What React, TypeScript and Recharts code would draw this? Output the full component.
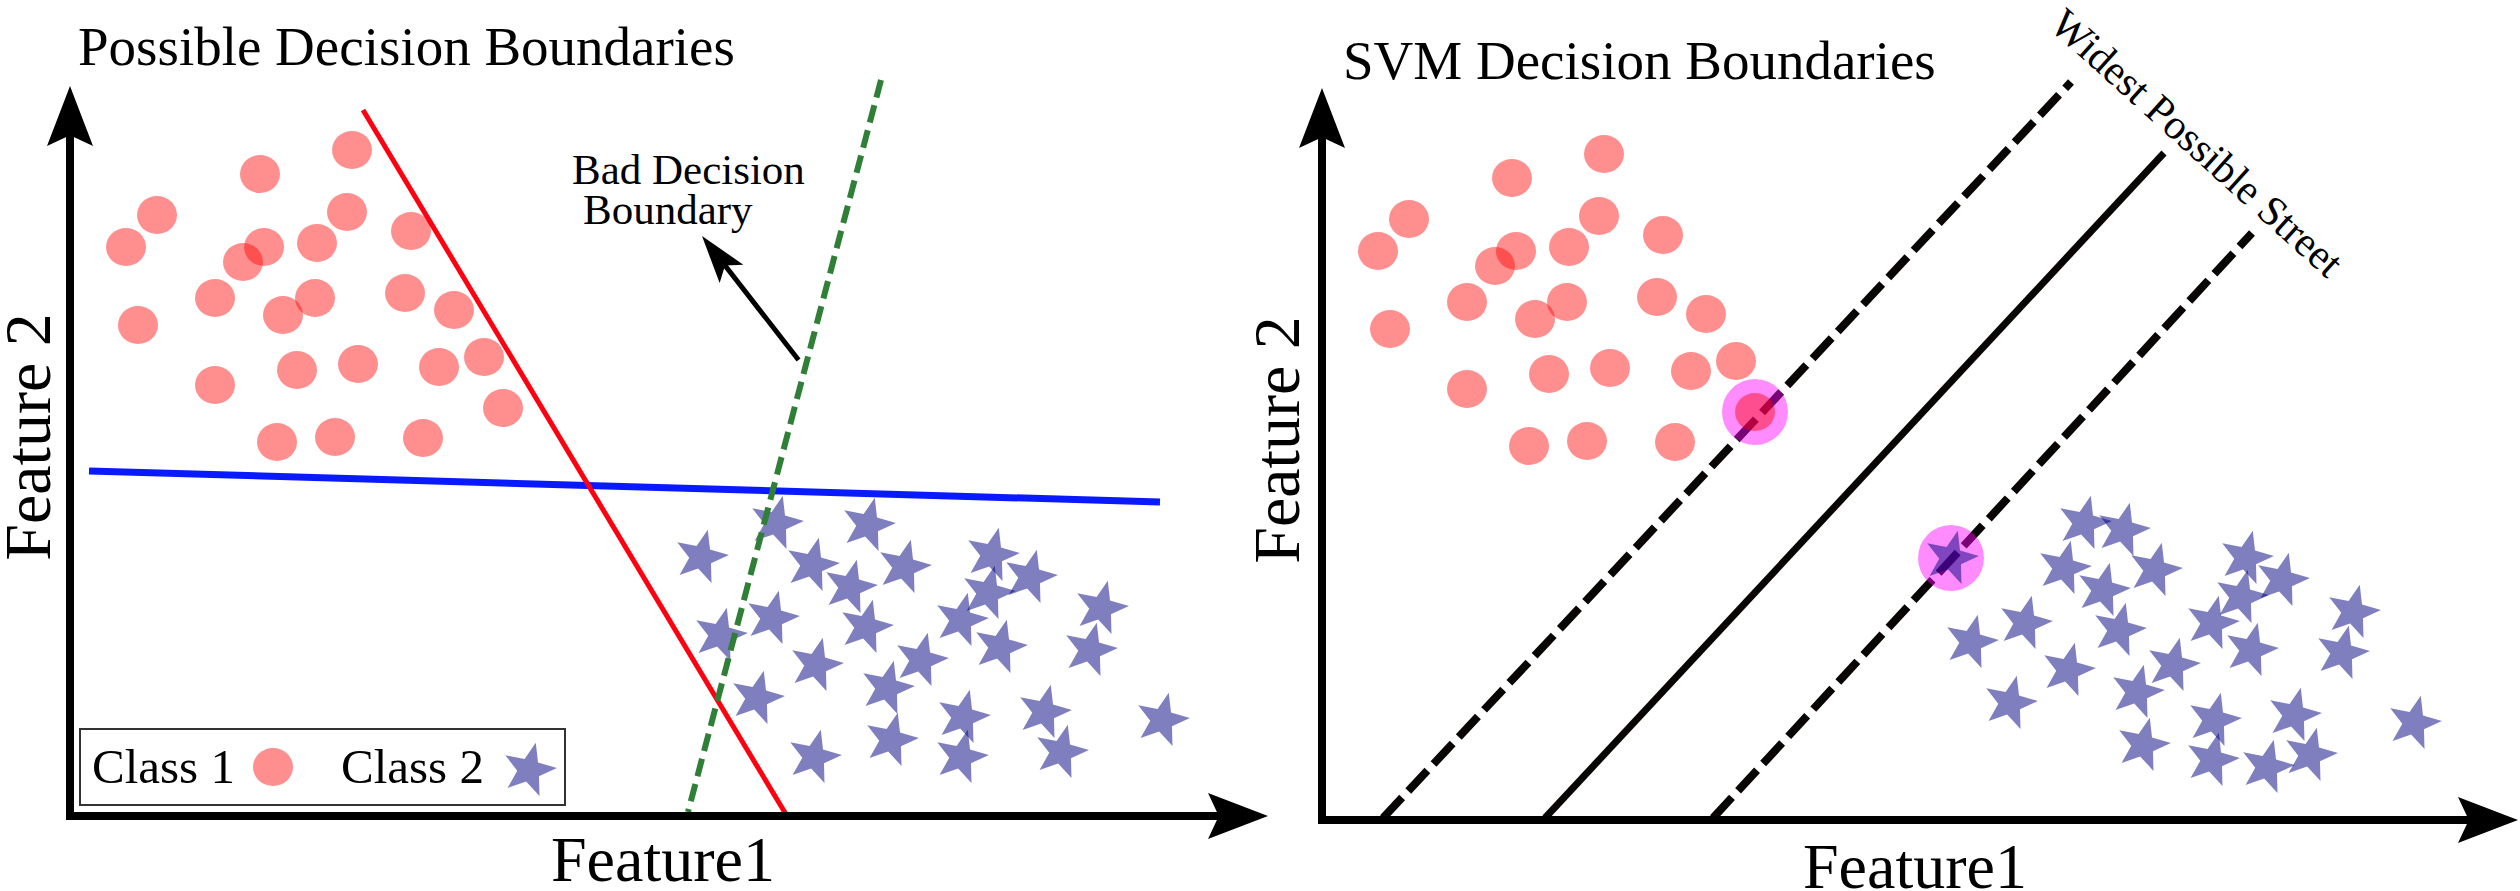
import React from "react";
import { ScatterChart, Scatter, XAxis, YAxis, ReferenceLine } from "recharts";

// feature space: 1 unit = 10px in both panels, origin at the axis corner

// class 1 samples (same cloud in both panels)
const class1 = [
  { x: 28.2, y: 66.6 }, { x: 19.0, y: 64.2 }, { x: 8.7, y: 60.1 }, { x: 5.6, y: 56.9 },
  { x: 19.4, y: 56.9 }, { x: 17.3, y: 55.4 }, { x: 24.7, y: 57.3 }, { x: 27.7, y: 60.4 },
  { x: 34.1, y: 58.5 }, { x: 14.5, y: 51.8 }, { x: 21.3, y: 50.1 }, { x: 24.5, y: 51.8 },
  { x: 33.5, y: 52.3 }, { x: 38.4, y: 50.6 }, { x: 6.8, y: 49.1 }, { x: 14.5, y: 43.1 },
  { x: 22.7, y: 44.6 }, { x: 28.8, y: 45.2 }, { x: 36.9, y: 44.9 }, { x: 41.4, y: 45.9 },
  { x: 43.3, y: 40.8 }, { x: 20.7, y: 37.4 }, { x: 26.5, y: 37.9 }, { x: 35.3, y: 37.8 },
];

// class 2 samples, left panel
const leftClass2 = [
  { x: 63.1, y: 25.9 }, { x: 70.6, y: 29.3 }, { x: 79.8, y: 29.1 }, { x: 74.2, y: 25.1 },
  { x: 83.4, y: 24.9 }, { x: 78.0, y: 22.9 }, { x: 92.2, y: 26.1 }, { x: 96.0, y: 23.9 },
  { x: 91.8, y: 22.3 }, { x: 103.1, y: 20.8 }, { x: 65.0, y: 18.1 }, { x: 70.2, y: 19.8 },
  { x: 79.6, y: 18.9 }, { x: 89.1, y: 19.6 }, { x: 93.0, y: 16.9 }, { x: 102.0, y: 16.6 },
  { x: 74.6, y: 15.1 }, { x: 85.1, y: 15.6 }, { x: 81.7, y: 12.8 }, { x: 68.7, y: 11.8 },
  { x: 89.3, y: 9.9 }, { x: 97.4, y: 10.4 }, { x: 109.2, y: 9.6 }, { x: 74.4, y: 5.9 },
  { x: 82.1, y: 7.6 }, { x: 89.1, y: 5.9 }, { x: 99.1, y: 6.4 },
];

// class 2 samples, right panel
const rightClass2 = [
  { x: 62.9, y: 26.2 }, { x: 76.2, y: 29.7 }, { x: 80.1, y: 29.0 }, { x: 74.2, y: 25.2 },
  { x: 83.3, y: 25.0 }, { x: 78.1, y: 23.0 }, { x: 92.4, y: 26.2 }, { x: 96.0, y: 24.0 },
  { x: 91.9, y: 22.3 }, { x: 103.1, y: 20.8 }, { x: 64.9, y: 17.8 }, { x: 70.3, y: 19.7 },
  { x: 79.7, y: 19.0 }, { x: 89.0, y: 19.7 }, { x: 92.9, y: 17.0 }, { x: 102.0, y: 16.7 },
  { x: 74.6, y: 15.0 }, { x: 85.1, y: 15.5 }, { x: 81.5, y: 12.8 }, { x: 68.8, y: 11.7 },
  { x: 89.2, y: 10.0 }, { x: 97.2, y: 10.5 }, { x: 109.2, y: 9.7 }, { x: 82.1, y: 7.5 },
  { x: 89.0, y: 6.0 }, { x: 94.5, y: 5.3 }, { x: 98.8, y: 6.5 },
];

const supportVectors = [{ x: 43.3, y: 40.8 }, { x: 62.9, y: 26.2 }];

// boundaries, left panel
const redBoundary = [{ x: 29.3, y: 70.6 }, { x: 71.7, y: 0 }];
const greenBoundary = [{ x: 81.1, y: 73.6 }, { x: 61.8, y: 0.4 }];
const blueBoundary = [{ x: 1.9, y: 34.5 }, { x: 109.0, y: 31.4 }];
const badPointer = [{ x: 72.7, y: 45.8 }, { x: 63.2, y: 58.0 }];

// street, right panel
const marginUpper = [{ x: 6.1, y: 0.2 }, { x: 74.9, y: 73.8 }];
const svmBoundary = [{ x: 22.3, y: 0.2 }, { x: 84.2, y: 66.7 }];
const marginLower = [{ x: 39.1, y: 0.2 }, { x: 93.0, y: 58.7 }];

const leftXAxis = [{ x: 0, y: 0 }, { x: 119.8, y: 0 }];
const leftYAxis = [{ x: 0, y: 0 }, { x: 0, y: 73 }];
const rightXAxis = [{ x: 0, y: 0 }, { x: 119.6, y: 0 }];
const rightYAxis = [{ x: 0, y: 0 }, { x: 0, y: 73.2 }];

const serif = '"Liberation Serif", "DejaVu Serif", serif';
const txt = { fontFamily: serif };

function starPoints(cx: number, cy: number, r = 28, inner = 0.42, rot = 14) {
  const pts: string[] = [];
  for (let i = 0; i < 10; i++) {
    const rr = i % 2 === 0 ? r : r * inner;
    const a = ((rot + i * 36) * Math.PI) / 180;
    pts.push(`${cx + rr * Math.sin(a)},${cy - rr * Math.cos(a)}`);
  }
  return pts.join(" ");
}

const CircleMark = (p: any) => (
  <ellipse cx={p.cx} cy={p.cy} rx={20} ry={19} fill="#ff0000" fillOpacity={0.44} />
);
const StarMark = (p: any) => (
  <polygon points={starPoints(p.cx, p.cy)} fill="#000080" fillOpacity={0.5} />
);
const HaloMark = (p: any) => (
  <circle cx={p.cx} cy={p.cy} r={33} fill="#ff00ff" fillOpacity={0.45} />
);

function arrow(width: number, headLen: number, headHalf: number, notch: number) {
  return (p: any) => {
    const { x1, y1, x2, y2 } = p;
    const len = Math.hypot(x2 - x1, y2 - y1);
    const ux = (x2 - x1) / len;
    const uy = (y2 - y1) / len;
    const bx = x2 - ux * headLen;
    const by = y2 - uy * headLen;
    const mx = x2 - ux * headLen * notch;
    const my = y2 - uy * headLen * notch;
    return (
      <g>
        <line x1={x1} y1={y1} x2={mx} y2={my} stroke="#000" strokeWidth={width} strokeLinecap="square" />
        <polygon
          points={`${x2},${y2} ${bx - uy * headHalf},${by + ux * headHalf} ${mx},${my} ${bx + uy * headHalf},${by - ux * headHalf}`}
          fill="#000"
        />
      </g>
    );
  };
}

const axisArrow = arrow(8, 60, 23, 0.82);
const pointerArrow = arrow(5, 48, 15, 0.78);

const seg = (d: { x: number; y: number }[]) =>
  [d[0], d[1]] as [{ x: number; y: number }, { x: number; y: number }];

export default function App() {
  return (
    <div style={{ position: "absolute", left: 0, top: 0, width: 2520, height: 891, overflow: "hidden", background: "#fff" }}>
      {/* left: possible boundaries */}
      <div style={{ position: "absolute", left: 0, top: 0 }}>
        <ScatterChart width={1300} height={891} margin={{ top: 76, right: 30, bottom: 75, left: 70 }}>
          <XAxis type="number" dataKey="x" domain={[0, 120]} allowDataOverflow hide />
          <YAxis type="number" dataKey="y" domain={[0, 74]} allowDataOverflow hide />
          <Scatter data={class1} shape={CircleMark} isAnimationActive={false} />
          <Scatter data={leftClass2} shape={StarMark} isAnimationActive={false} />
          <ReferenceLine segment={seg(blueBoundary)} stroke="#0a1aff" strokeWidth={7} ifOverflow="visible" zIndex={700} />
          <ReferenceLine segment={seg(redBoundary)} stroke="#ff0011" strokeWidth={5} ifOverflow="visible" zIndex={700} />
          <ReferenceLine segment={seg(greenBoundary)} stroke="#2f7f36" strokeWidth={6} strokeDasharray="18 8" ifOverflow="visible" zIndex={700} />
          <ReferenceLine segment={seg(badPointer)} shape={pointerArrow} ifOverflow="visible" zIndex={700} />
          <ReferenceLine segment={seg(leftXAxis)} shape={axisArrow} ifOverflow="visible" zIndex={700} />
          <ReferenceLine segment={seg(leftYAxis)} shape={axisArrow} ifOverflow="visible" zIndex={700} />
        </ScatterChart>
      </div>

      {/* right: svm street */}
      <div style={{ position: "absolute", left: 1250, top: 0 }}>
        <ScatterChart width={1280} height={891} margin={{ top: 80, right: 8, bottom: 71, left: 72 }}>
          <XAxis type="number" dataKey="x" domain={[0, 120]} allowDataOverflow hide />
          <YAxis type="number" dataKey="y" domain={[0, 74]} allowDataOverflow hide />
          <ReferenceLine segment={seg(marginUpper)} stroke="#0a0505" strokeWidth={8} strokeDasharray="28 9" ifOverflow="visible" />
          <ReferenceLine segment={seg(svmBoundary)} stroke="#0a0505" strokeWidth={7} ifOverflow="visible" />
          <ReferenceLine segment={seg(marginLower)} stroke="#0a0505" strokeWidth={8} strokeDasharray="28 9" ifOverflow="visible" />
          <ReferenceLine segment={seg(rightXAxis)} shape={axisArrow} ifOverflow="visible" />
          <ReferenceLine segment={seg(rightYAxis)} shape={axisArrow} ifOverflow="visible" />
          <Scatter data={supportVectors} shape={HaloMark} isAnimationActive={false} />
          <Scatter data={class1} shape={CircleMark} isAnimationActive={false} />
          <Scatter data={rightClass2} shape={StarMark} isAnimationActive={false} />
        </ScatterChart>
      </div>

      {/* titles, labels, legend */}
      <svg width={2520} height={891} style={{ position: "absolute", left: 0, top: 0, pointerEvents: "none", fontFamily: serif }} fill="#000">
        <text x={78} y={65} fontSize={55} style={txt}>Possible Decision Boundaries</text>
        <text x={1343} y={79} fontSize={55} style={txt}>SVM Decision Boundaries</text>
        <text x={572} y={184} fontSize={43} style={txt}>Bad Decision</text>
        <text x={583} y={224} fontSize={43} style={txt}>Boundary</text>
        <text transform="translate(2197,143) rotate(42)" textAnchor="middle" dominantBaseline="central" fontSize={42} style={txt}>
          Widest Possible Street
        </text>
        <text transform="translate(50,437) rotate(-90)" textAnchor="middle" fontSize={66} style={txt}>Feature 2</text>
        <text transform="translate(1299,440) rotate(-90)" textAnchor="middle" fontSize={66} style={txt}>Feature 2</text>
        <text x={551} y={881} fontSize={64} style={txt}>Feature1</text>
        <text x={1803} y={888} fontSize={64} style={txt}>Feature1</text>

        <rect x={80} y={729} width={485} height={76} fill="#fff" stroke="#333" strokeWidth={2} />
        <text x={92} y={783} fontSize={49} style={txt}>Class 1</text>
        <ellipse cx={273} cy={767} rx={20} ry={19} fill="#ff0000" fillOpacity={0.44} />
        <text x={341} y={783} fontSize={49} style={txt}>Class 2</text>
        <polygon points={starPoints(529, 770)} fill="#000080" fillOpacity={0.5} />
      </svg>
    </div>
  );
}
